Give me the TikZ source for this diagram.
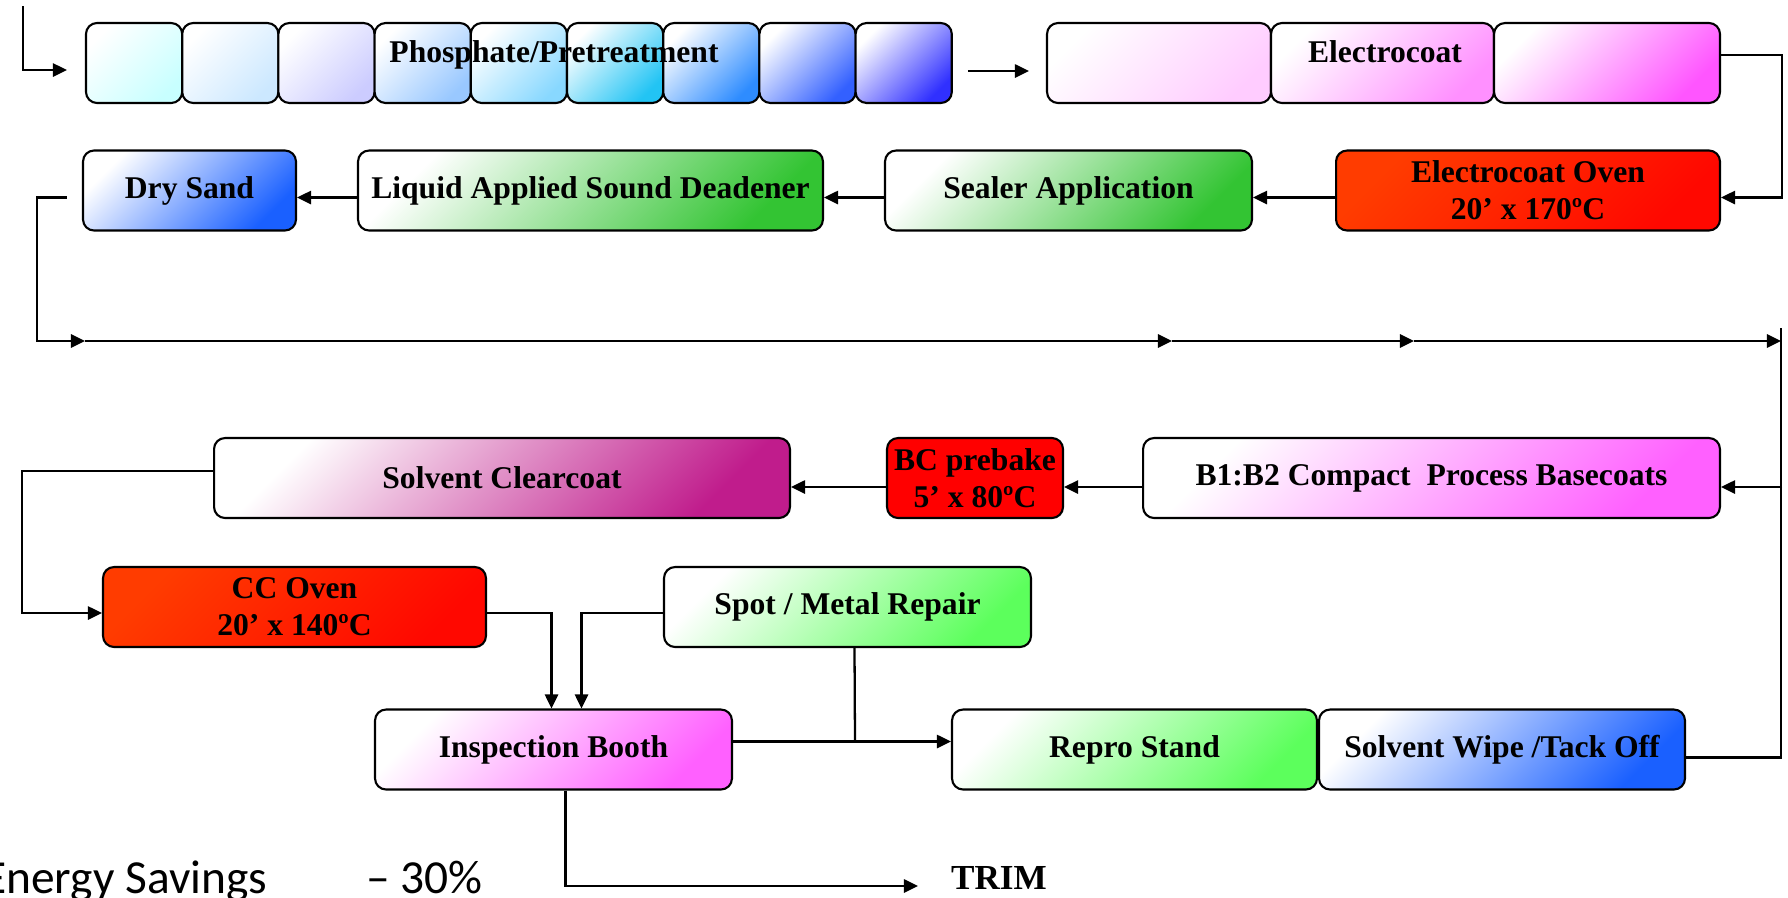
\documentclass[tikz,border=0pt]{standalone}
\usepackage{fontspec}
\setmainfont{Liberation Serif}
\newfontfamily\calibri{Carlito}
\usetikzlibrary{arrows.meta,calc}

\definecolor{phA}{HTML}{C8FFFF}
\definecolor{phB}{HTML}{CCE8FF}
\definecolor{phC}{HTML}{CCCCFF}
\definecolor{phD}{HTML}{99C8FF}
\definecolor{phE}{HTML}{88D8FF}
\definecolor{phF}{HTML}{22C4F4}
\definecolor{phG}{HTML}{2E8CFF}
\definecolor{phH}{HTML}{3360FF}
\definecolor{phI}{HTML}{3030FF}
\definecolor{ecA}{HTML}{FFCCFF}
\definecolor{ecB}{HTML}{FF90FF}
\definecolor{ecC}{HTML}{FF55FF}
\definecolor{ovenA}{HTML}{FF3C00}
\definecolor{ovenB}{HTML}{FF0800}
\definecolor{leaf}{HTML}{33C433}
\definecolor{lime}{HTML}{5CFF5C}
\definecolor{cobalt}{HTML}{1A60FF}
\definecolor{orchid}{HTML}{FF60FF}
\definecolor{plum}{HTML}{C01C8C}

\tikzset{
  stage/.style={draw, rounded corners=0.22cm, line width=1.2pt, align=center, inner sep=2pt,
    minimum height=1.6cm, font=\bfseries\fontsize{18}{21}\selectfont},
  grad/.style={top color=white, bottom color=#1, shading angle=45},
  oven/.style={top color=ovenA, bottom color=ovenB, shading angle=45},
  lbl/.style={font=\bfseries\fontsize{18}{21}\selectfont},
  note/.style={anchor=base west, inner sep=0pt, font=\calibri\fontsize{27}{30}\selectfont}
}

\begin{document}
\begin{tikzpicture}[x=0.02cm, y=-0.02cm, line width=1.3pt, >={Triangle[length=8pt,width=7.5pt]}]
  \useasboundingbox (0,0) rectangle (1788,897);
  % pretreatment tanks
  \node[stage, grad=phA, minimum width=1.924cm] at (134.1,63) (ph1) {};
  \node[stage, grad=phB, minimum width=1.924cm] at (230.3,63) (ph2) {};
  \node[stage, grad=phC, minimum width=1.924cm] at (326.5,63) (ph3) {};
  \node[stage, grad=phD, minimum width=1.924cm] at (422.7,63) (ph4) {};
  \node[stage, grad=phE, minimum width=1.924cm] at (518.9,63) (ph5) {};
  \node[stage, grad=phF, minimum width=1.924cm] at (615.1,63) (ph6) {};
  \node[stage, grad=phG, minimum width=1.924cm] at (711.3,63) (ph7) {};
  \node[stage, grad=phH, minimum width=1.924cm] at (807.5,63) (ph8) {};
  \node[stage, grad=phI, minimum width=1.924cm] at (903.7,63) (ph9) {};
  \node[lbl] at (554,55) (phlabel) {Phosphate/Pretreatment};
  % electrocoat tanks
  \node[stage, grad=ecA, minimum width=4.48cm] at (1159,63) (ec1) {};
  \node[stage, grad=ecB, minimum width=4.46cm] at (1382.5,63) (ec2) {};
  \node[stage, grad=ecC, minimum width=4.52cm] at (1607,63) (ec3) {};
  \node[lbl] at (1385,52) (eclabel) {Electrocoat};

  \node[stage, oven, minimum width=7.68cm] at (1528,190.5) (eoven) {Electrocoat Oven\\20’ x 170ºC};
  \node[stage, grad=leaf, minimum width=7.34cm] at (1068.5,190.5) (sealer) {Sealer Application};
  \node[stage, grad=leaf, minimum width=9.3cm] at (590.5,190.5) (liquid) {Liquid Applied Sound Deadener};
  \node[stage, grad=cobalt, minimum width=4.26cm] at (189.5,190.5) (dry) {Dry Sand};

  \node[stage, grad=orchid, minimum width=11.54cm] at (1431.5,478) (b1b2) {B1:B2 Compact~ Process Basecoats};
  \node[stage, fill=red, minimum width=3.52cm] at (975,478) (prebake) {BC prebake\\5’ x 80ºC};
  \node[stage, grad=plum, minimum width=11.52cm] at (502,478) (clear) {Solvent Clearcoat};

  \node[stage, oven, minimum width=7.66cm] at (294.5,607) (ccoven) {CC Oven\\20’ x 140ºC};
  \node[stage, grad=lime, minimum width=7.34cm] at (847.5,607) (spot) {Spot / Metal Repair};

  \node[stage, grad=orchid, minimum width=7.14cm] at (553.5,749.5) (insp) {Inspection Booth};
  \node[stage, grad=lime, minimum width=7.3cm] at (1134.5,749.5) (repro) {Repro Stand};
  \node[stage, grad=cobalt, minimum width=7.32cm] at (1502,749.5) (wipe) {Solvent Wipe /Tack Off};

  \node[anchor=base west, inner sep=0pt, font=\bfseries\fontsize{20}{24}\selectfont] at (950,889) (trim) {TRIM};
  \node[note] at (-18,893) (energy) {Energy Savings};
  \node[note] at (365,893) (saving) {– 30\%};

  % free ends of the lines
  \coordinate (start) at (23,6);
  \coordinate (m1) at (85,341);
  \coordinate (m2) at (1172,341);
  \coordinate (m3) at (1414,341);
  \coordinate (m4) at (1781,341);
  \coordinate (r1) at (1781,328);
  \coordinate (jn) at (855,742);
  \coordinate (out) at (918,886);

  \draw[->, shorten >=0.36cm] (start) |- ($(ph1.west)+(0,7)$);
  \draw[->, shorten <=0.3cm, shorten >=0.34cm] ($(ph9.east)+(0,8)$) -- ($(ec1.west)+(0,8)$);
  \draw[->] ($(ec3.east)+(0,-8)$) -- ++(61,0) |- ($(eoven.east)+(0,7)$);
  \draw[->] ($(eoven.west)+(0,7)$) -- ($(sealer.east)+(0,7)$);
  \draw[->] ($(sealer.west)+(0,7)$) -- ($(liquid.east)+(0,7)$);
  \draw[->] ($(liquid.west)+(0,7)$) -- ($(dry.east)+(0,7)$);
  \draw[->] ($(dry.west)+(-15,7)$) -- ++(-30,0) |- (m1);
  \draw[->] (m1) -- (m2);
  \draw[->] (m2) -- (m3);
  \draw[->] (m3) -- (m4);
  \draw ($(wipe.east)+(0,8)$) -| (r1);
  \draw[->] ($(b1b2.east)+(61,9)$) -- ($(b1b2.east)+(0,9)$);
  \draw[->] ($(b1b2.west)+(0,9)$) -- ($(prebake.east)+(0,9)$);
  \draw[->] ($(prebake.west)+(0,9)$) -- ($(clear.east)+(0,9)$);
  \draw[->] ($(clear.west)+(0,-7)$) -- ++(-191,0) |- ($(ccoven.west)+(0,6)$);
  \draw[->] ($(ccoven.east)+(0,6)$) -| ($(insp.north)+(-2,0)$);
  \draw[->] ($(spot.west)+(0,6)$) -| ($(insp.north)+(28,0)$);
  \draw ($(spot.south)+(7,0)$) -- (jn);
  \draw[->] ($(insp.east)+(0,-8)$) -- ($(repro.west)+(0,-8)$);
  \draw[->] ($(insp.south)+(12,0)$) |- (out);
\end{tikzpicture}
\end{document}
